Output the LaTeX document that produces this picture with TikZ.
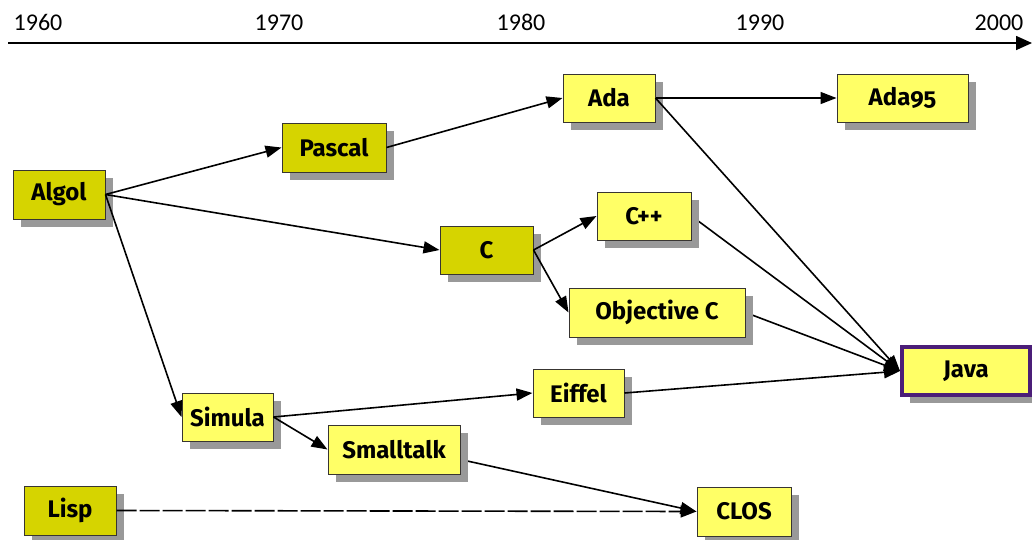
\documentclass[tikz,border=0pt]{standalone}
\usepackage{fontspec}
\setmainfont{Fira Sans}[Numbers=OldStyle]
\newfontfamily\yearfont{Carlito}
\usetikzlibrary{shadows,arrows.meta}
\pgfdeclarelayer{background}
\pgfsetlayers{background,main}
\definecolor{darkfill}{RGB}{214,212,0}
\definecolor{lightfill}{RGB}{255,255,102}
\definecolor{javaborder}{RGB}{75,30,120}
\definecolor{shadowgray}{RGB}{153,153,153}
\tikzset{
  lang/.style={draw=black!90!yellow, line width=1pt, minimum height=48pt, inner sep=0pt,
    font=\fontsize{24}{26}\selectfont\bfseries,
    drop shadow={shadow xshift=8pt, shadow yshift=-8pt, fill=shadowgray, opacity=1}},
  old/.style={lang, fill=darkfill},
  new/.style={lang, fill=lightfill},
  conn/.style={line width=1.6pt, -{Triangle[length=16pt,width=12pt]}},
  year/.style={font=\yearfont\fontsize{24}{26}\selectfont, anchor=base}
}
\begin{document}
\begin{tikzpicture}[x=1pt,y=-1pt]
\useasboundingbox (0,0) rectangle (1032,539);
% time axis
\coordinate (axs) at (8,43);
\coordinate (axe) at (1032,43);
\draw[line width=1.6pt, -{Triangle[length=16pt,width=14pt]}] (axs) -- (axe);
\node[year] (y1960) at (38,30) {1960};
\node[year] (y1970) at (279,30) {1970};
\node[year] (y1980) at (521,30) {1980};
\node[year] (y1990) at (760,30) {1990};
\node[year] (y2000) at (999,30) {2000};
% languages
\node[old, minimum width=92pt, minimum height=49pt] (algol) at (59,194.5) {Algol};
\node[old, minimum width=104pt, minimum height=49pt] (pascal) at (334,147.5) {Pascal};
\node[new, minimum width=92pt] (ada) at (609,98) {Ada};
\node[new, minimum width=131pt] (ada95) at (902.5,98) {Ada95};
\node[old, minimum width=93pt] (c) at (486.5,250) {C};
\node[new, minimum width=94pt] (cpp) at (644,216) {C++};
\node[new, minimum width=176pt, minimum height=49pt] (objc) at (657,312.5) {Objective C};
\node[new, draw=javaborder, line width=4pt, minimum width=128pt, minimum height=48pt] (java) at (966,371) {Java};
\node[new, minimum width=91pt] (eiffel) at (578.5,393) {Eiffel};
\node[new, minimum width=91pt] (simula) at (227.5,417) {Simula};
\node[new, minimum width=132pt, minimum height=49pt] (smalltalk) at (394,449.5) {Smalltalk};
\node[old, minimum width=92pt, minimum height=49pt] (lisp) at (70,510.5) {Lisp};
\node[new, minimum width=94pt, minimum height=49pt] (clos) at (744,511.5) {CLOS};
% connectors over shadows
\draw[conn] (algol.east) -- (pascal.west);
\draw[conn] (algol.east) -- (c.west);
\draw[conn] (algol.east) -- (simula.west);
\draw[conn] (pascal.east) -- (ada.west);
\draw[conn] (ada.east) -- (ada95.west);
\draw[conn] (ada.east) -- (java.west);
\draw[conn] (c.east) -- (cpp.west);
\draw[conn] (c.east) -- (objc.west);
\draw[conn] (eiffel.east) -- (java.west);
\draw[conn] (simula.east) -- (eiffel.west);
\draw[conn] (simula.east) -- (smalltalk.west);
\draw[conn, dash pattern=on 20pt off 3pt] (lisp.east) -- (clos.west);
% connectors hidden behind shadows
\begin{pgfonlayer}{background}
\draw[conn] (cpp.east) -- (java.west);
\draw[conn] (objc.east) -- (java.west);
\draw[conn] ([yshift=-10pt]smalltalk.east) -- (clos.west);
\end{pgfonlayer}
\end{tikzpicture}
\end{document}
